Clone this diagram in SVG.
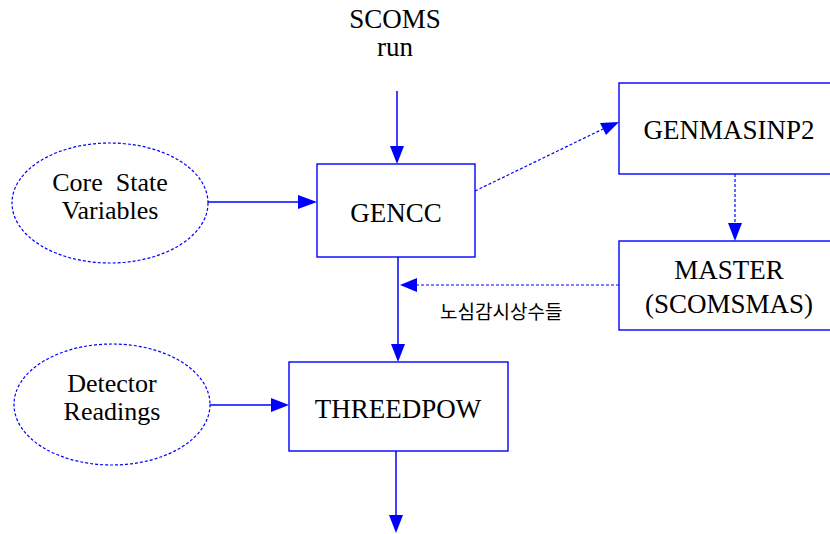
<svg xmlns="http://www.w3.org/2000/svg" width="830" height="534" viewBox="0 0 830 534">
  <style>
    .box { fill: #ffffff; stroke: #0000ff; stroke-width: 1.4; }
    .ell { fill: #ffffff; stroke: #0000ff; stroke-width: 1.2; stroke-dasharray: 3 2; }
    .solid { stroke: #0000ff; stroke-width: 1.5; fill: none; }
    .dash { stroke: #0000ff; stroke-width: 1.2; stroke-dasharray: 3 2; fill: none; }
    .head { fill: #0000ff; }
  </style>

  <!-- nodes: boxes and dashed ellipses with serif labels -->
  <g id="scoms-run">
    <text x="395" y="28" style="font-family:'Liberation Serif','Times New Roman',serif;font-size:27px;text-anchor:middle">SCOMS</text>
    <text x="395" y="56" style="font-family:'Liberation Serif','Times New Roman',serif;font-size:27px;text-anchor:middle">run</text>
  </g>
  <g id="core-state">
    <ellipse class="ell" cx="110" cy="203" rx="98" ry="60"/>
    <text x="110" y="191" style="font-family:'Liberation Serif','Times New Roman',serif;font-size:26px;text-anchor:middle;white-space:pre" xml:space="preserve">Core  State</text>
    <text x="110" y="219" style="font-family:'Liberation Serif','Times New Roman',serif;font-size:26px;text-anchor:middle">Variables</text>
  </g>
  <g id="gencc">
    <rect class="box" x="317" y="164" width="158" height="93"/>
    <text x="396" y="222" style="font-family:'Liberation Serif','Times New Roman',serif;font-size:27px;text-anchor:middle">GENCC</text>
  </g>
  <g id="genmasinp2">
    <rect class="box" x="619" y="83" width="215" height="91"/>
    <text x="729" y="139" style="font-family:'Liberation Serif','Times New Roman',serif;font-size:27px;text-anchor:middle">GENMASINP2</text>
  </g>
  <g id="master">
    <rect class="box" x="619" y="241" width="215" height="89"/>
    <text x="729" y="279" style="font-family:'Liberation Serif','Times New Roman',serif;font-size:27px;text-anchor:middle">MASTER</text>
    <text x="729" y="313" style="font-family:'Liberation Serif','Times New Roman',serif;font-size:27px;text-anchor:middle">(SCOMSMAS)</text>
  </g>
  <g id="detector">
    <ellipse class="ell" cx="112" cy="404.5" rx="98" ry="60.5"/>
    <text x="112" y="392" style="font-family:'Liberation Serif','Times New Roman',serif;font-size:26px;text-anchor:middle">Detector</text>
    <text x="112" y="420" style="font-family:'Liberation Serif','Times New Roman',serif;font-size:26px;text-anchor:middle">Readings</text>
  </g>
  <g id="threedpow">
    <rect class="box" x="289" y="362" width="219" height="89"/>
    <text x="398" y="418" style="font-family:'Liberation Serif','Times New Roman',serif;font-size:27px;text-anchor:middle">THREEDPOW</text>
  </g>

  <!-- connectors -->
  <g id="connectors">
    <!-- solid data-flow lines -->
    <line class="solid" x1="397" y1="91" x2="397" y2="147"/>
    <line class="solid" x1="208" y1="202" x2="299" y2="202"/>
    <line class="solid" x1="398" y1="257" x2="398" y2="345"/>
    <line class="solid" x1="210" y1="405" x2="272" y2="405"/>
    <line class="solid" x1="396" y1="451" x2="396" y2="516"/>
    <!-- dashed auxiliary lines -->
    <line class="dash" x1="475" y1="191" x2="603" y2="129"/>
    <line class="dash" x1="735" y1="174" x2="735" y2="224"/>
    <line class="dash" x1="619" y1="285" x2="416" y2="285"/>
    <!-- arrowheads -->
    <polygon class="head" points="390,146 404,146 397,164"/>
    <polygon class="head" points="298,195 298,209 317,202"/>
    <polygon class="head" points="600,123 606,135 619,122"/>
    <polygon class="head" points="728,223 742,223 735,241"/>
    <polygon class="head" points="417,278 417,292 400,285"/>
    <polygon class="head" points="391,344 405,344 398,362"/>
    <polygon class="head" points="271,398 271,412 289,405"/>
    <polygon class="head" points="389,515 403,515 396,533"/>
    <text x="440" y="319" style="font-family:'Noto Sans CJK KR',sans-serif;font-size:19px">노심감시상수들</text>
  </g>
</svg>
